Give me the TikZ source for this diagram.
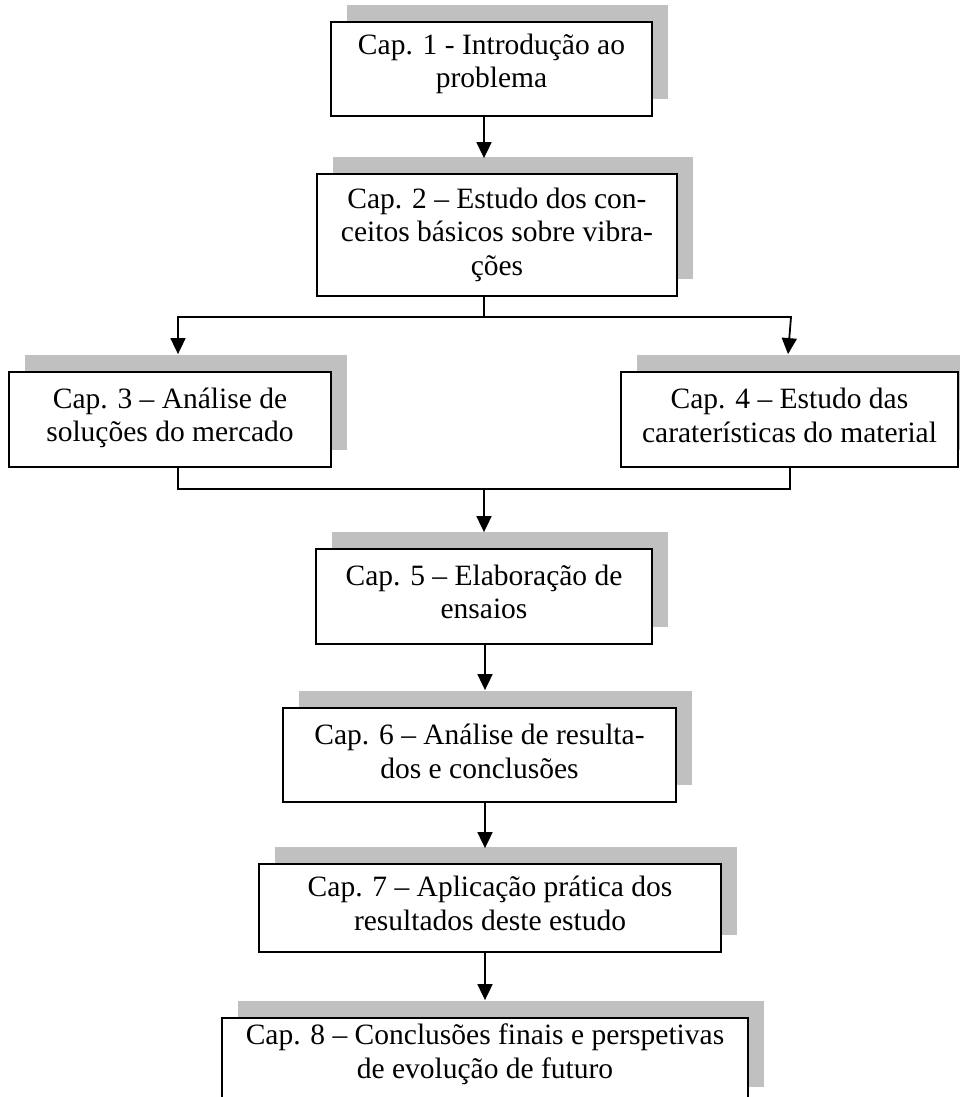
\documentclass[tikz,border=0pt]{standalone}
\usepackage{fontspec}
\setmainfont{Liberation Serif}
\usetikzlibrary{arrows.meta,shadows,calc}
\definecolor{shadowgray}{HTML}{C0C0C0}
\begin{document}
\begin{tikzpicture}[x=1pt,y=-1pt,
  box/.style={draw, line width=1.8pt, fill=white, inner sep=0pt,
    general shadow={fill=shadowgray, shadow xshift=16pt, shadow yshift=17pt}},
  txt/.style={align=center, inner sep=0pt, anchor=base,
    font=\fontsize{29.5}{33.5}\selectfont},
  conn/.style={line width=1.8pt},
  arr/.style={conn, -{Triangle[length=16pt,width=15pt]}}]
\useasboundingbox (0,0) rectangle (960,1097);
\fill[white] (0,0) rectangle (960,1097);
\clip (0,0) rectangle (960,1097);

% boxes
\node[box, minimum width=321pt, minimum height=94pt]  (b1) at (491.5,69) {};
\node[box, minimum width=360pt, minimum height=122pt] (b2) at (497,235) {};
\node[box, minimum width=322pt, minimum height=95pt]  (b3) at (170,419.5) {};
\node[box, minimum width=337pt, minimum height=95pt]  (b4) at (789.5,419.5) {};
\node[box, minimum width=336pt, minimum height=95pt]  (b5) at (484,596.5) {};
\node[box, minimum width=393pt, minimum height=94pt]  (b6) at (479.5,755) {};
\node[box, minimum width=462pt, minimum height=88pt]  (b7) at (490,908) {};
\node[box, minimum width=526pt, minimum height=86pt]  (b8) at (485,1061) {};

% texts (anchored at the baseline of the last line)
\node[txt] (t1) at (491.5,88) {Cap. 1 - Introdução ao\\problema};
\node[txt] (t2) at (497,275) {Cap. 2 – Estudo dos con-\\ceitos básicos sobre vibra-\\ções};
\node[txt] (t3) at (170,441.5) {Cap. 3 – Análise de\\soluções do mercado};
\node[txt] (t4) at (789.5,442) {Cap. 4 – Estudo das\\caraterísticas do material};
\node[txt] (t5) at (484,618.5) {Cap. 5 – Elaboração de\\ensaios};
\node[txt] (t6) at (479.5,778) {Cap. 6 – Análise de resulta-\\dos e conclusões};
\node[txt] (t7) at (490,930) {Cap. 7 – Aplicação prática dos\\resultados deste estudo};
\node[txt] (t8) at (485,1078) {Cap. 8 – Conclusões finais e perspetivas\\de evolução de futuro};

% connectors
\coordinate (ax) at (484,0);
\coordinate (ay) at (485,0);
\draw[arr] (b1.south -| ax) -- ($(b2.north -| ax)+(0,-15)$);

\coordinate (j1) at (484,317);
\coordinate (jl) at (178,317);
\coordinate (jr) at (791,317);
\draw[conn] (b2.south -| j1) -- (j1);
\draw[arr] (j1) -- (jl) -- ($(b3.north -| jl)+(0,-17)$);
\draw[arr] (j1) -- (jr) -- ($(b4.north -| jr)+(-3,-17)$);

\coordinate (k1) at (484,489);
\coordinate (kl) at (178,489);
\coordinate (kr) at (790,489);
\draw[conn] (b3.south -| kl) -- (kl) -- (kr) -- (b4.south -| kr);
\draw[arr] (k1) -- ($(b5.north -| k1)+(0,-16)$);

\draw[arr] (b5.south -| ay) -- ($(b6.north -| ay)+(0,-17)$);
\draw[arr] (b6.south -| ay) -- ($(b7.north -| ay)+(0,-15)$);
\draw[arr] (b7.south -| ay) -- ($(b8.north -| ay)+(0,-17)$);
\end{tikzpicture}
\end{document}
